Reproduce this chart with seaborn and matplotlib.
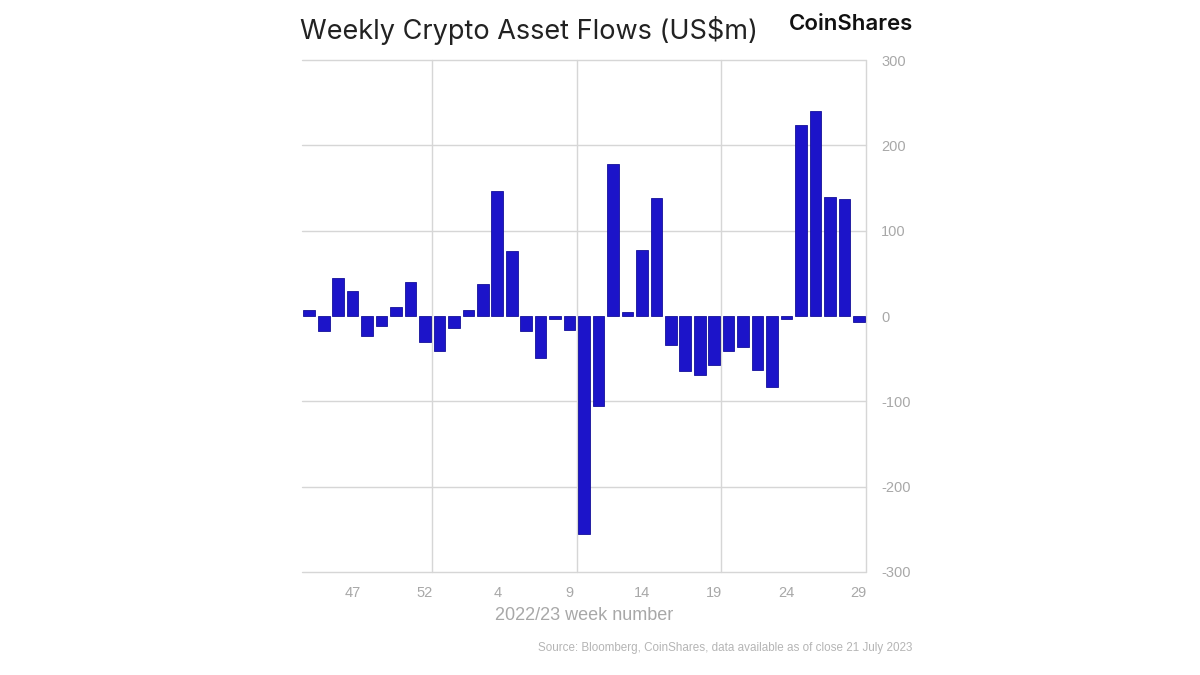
import numpy as np
import pandas as pd
import seaborn as sns
import matplotlib.pyplot as plt

# weekly flows, weeks 44..53 of 2022 then 1..29 of 2023
weeks = [str(w) for w in range(44, 54)] + [str(w) for w in range(1, 30)]
flows = [7, -18, 44, 29, -23, -12, 10, 40, -30, -41,
         -14, 7, 38, 146, 76, -18, -49, -4, -16, -256,
         -105, 178, 5, 77, 138, -34, -65, -69, -57, -41,
         -36, -63, -83, -3, 224, 240, 139, 137, -7]
tick_weeks = ['47', '52', '4', '9', '14', '19', '24', '29']
y_ticks = [-300, -200, -100, 0, 100, 200, 300]

df = pd.DataFrame({'week': weeks, 'flow': flows})

sns.set_theme(style='white')
plt.rcParams['font.family'] = ['Liberation Sans', 'DejaVu Sans']

fig = plt.figure(figsize=(12, 6.75), dpi=100)
ax = fig.add_axes([0.2517, 0.1526, 0.47, 0.7585])

bar_col = '#1c14c9'
sns.barplot(data=df, x='week', y='flow', order=weeks, color=bar_col,
            saturation=1, width=0.8, edgecolor='#14109a', linewidth=0.6, ax=ax)

ax.set_xlim(-0.5, len(weeks) - 0.5)
ax.set_ylim(-300, 300)

grid_col = '#d6d6d6'
for v in [-300, -200, -100, 100, 200, 300]:
    ax.axhline(v, color=grid_col, lw=1, zorder=0, clip_on=False)
for xv in [8.5, 18.5, 28.5, 38.5]:
    ax.axvline(xv, color=grid_col, lw=1, zorder=0, clip_on=False)

for s in ax.spines.values():
    s.set_visible(False)

ax.set_xticks([weeks.index(w) for w in tick_weeks])
ax.set_xticklabels(tick_weeks, color='#a8a8a8', fontsize=10.5)
ax.yaxis.tick_right()
ax.set_yticks(y_ticks)
ax.set_yticklabels([str(v) for v in y_ticks], color='#a8a8a8', fontsize=10.5)
ax.tick_params(axis='both', length=0)
ax.tick_params(axis='x', pad=10)
ax.tick_params(axis='y', pad=11)
ax.set_ylabel('')
ax.set_xlabel('2022/23 week number', color='#a8a8a8', fontsize=13, labelpad=5)

fig.text(0.25, 0.955, 'Weekly Crypto Asset Flows (US$m)', fontsize=19.5,
         color='#222222', ha='left', va='center', family=['Inter', 'DejaVu Sans'])
fig.text(0.761, 0.965, 'CoinShares', fontsize=16, color='#111111',
         ha='right', va='center', weight='semibold', family=['Inter', 'DejaVu Sans'])
fig.text(0.76, 0.04, 'Source: Bloomberg, CoinShares, data available as of close 21 July 2023',
         fontsize=8.4, color='#b5b5b5', ha='right', va='center')

fig.savefig('out.png', dpi=100, facecolor='white')
